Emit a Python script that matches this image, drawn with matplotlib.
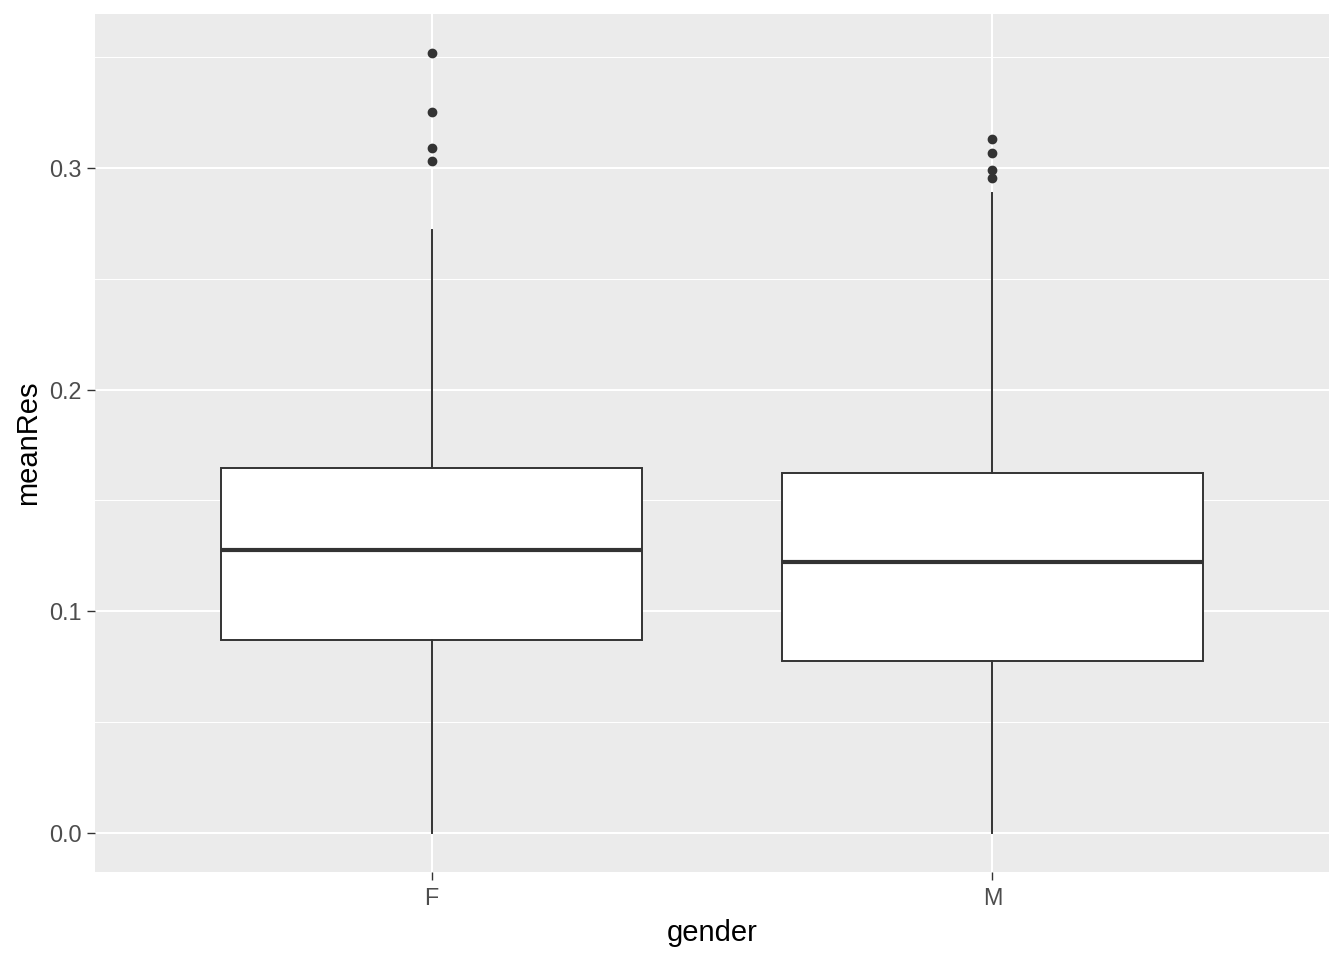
import matplotlib
matplotlib.use("Agg")
import matplotlib.pyplot as plt
import numpy as np

plt.rcParams['font.family'] = ['Liberation Sans', 'DejaVu Sans']

# box statistics
genders = ["F", "M"]
q1 = [0.0871, 0.0776]
med = [0.1277, 0.1222]
q3 = [0.1647, 0.1624]
whislo = [0.0, 0.0]
whishi = [0.272, 0.2887]
fliers = [[0.352, 0.325, 0.309, 0.303],
          [0.313, 0.3067, 0.299, 0.2955]]

stats = []
for k in range(len(genders)):
    stats.append(dict(label=genders[k], q1=q1[k], med=med[k], q3=q3[k],
                      whislo=whislo[k], whishi=whishi[k], fliers=fliers[k]))

fig = plt.figure(figsize=(13.44, 9.6), dpi=100)
ax = fig.add_axes([95/1344, 1-872/960, (1329-95)/1344, (872-14)/960])
ax.set_facecolor("#EBEBEB")

# grid
for y in np.arange(0.05, 0.4, 0.1):
    ax.axhline(y, color="white", lw=0.75, zorder=0)
for y in np.arange(0.0, 0.35, 0.1):
    ax.axhline(y, color="white", lw=1.5, zorder=0)
for x in [1, 2]:
    ax.axvline(x, color="white", lw=1.5, zorder=0)

dark = "#333333"
ax.bxp(stats, positions=[1, 2], widths=0.75, patch_artist=True, showcaps=False,
       boxprops=dict(facecolor="white", edgecolor=dark, linewidth=1.4),
       whiskerprops=dict(color=dark, linewidth=1.4),
       medianprops=dict(color=dark, linewidth=3.0),
       flierprops=dict(marker="o", markerfacecolor=dark, markeredgecolor=dark,
                       markersize=6.0),
       zorder=2)

ax.set_xlim(0.4, 2.6)
ax.set_ylim(-0.0176, 0.3694)
ax.set_yticks([0.0, 0.1, 0.2, 0.3])
ax.set_yticklabels(["0.0", "0.1", "0.2", "0.3"])
ax.set_xticks([1, 2])
ax.set_xticklabels(genders)

for s in ax.spines.values():
    s.set_visible(False)
ax.tick_params(axis="both", colors=dark, length=5.5, width=1.0, labelsize=16.8,
               labelcolor="#4D4D4D")
ax.tick_params(axis="x", pad=5.5)
ax.tick_params(axis="y", pad=4)

ax.set_xlabel("gender", fontsize=21, color="black", labelpad=6.5)
ax.set_ylabel("meanRes", fontsize=21, color="black", labelpad=5)

fig.savefig("out.png", dpi=100)
